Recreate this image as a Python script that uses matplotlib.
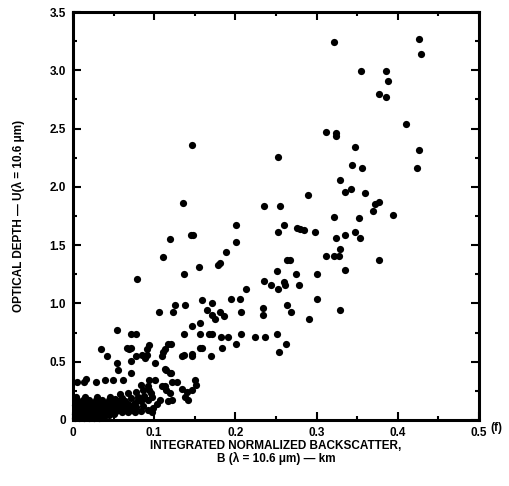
import matplotlib.pyplot as plt
from matplotlib.ticker import MultipleLocator
import numpy as np

# (integrated normalized backscatter [km], optical depth)
points_upper = [
    (0.321, 3.24), (0.426, 3.27), (0.429, 3.14), (0.355, 2.99), (0.385, 2.99),
    (0.388, 2.91), (0.377, 2.80), (0.385, 2.77), (0.410, 2.54), (0.312, 2.47),
    (0.324, 2.46), (0.324, 2.44), (0.347, 2.34), (0.426, 2.32), (0.344, 2.19),
    (0.356, 2.16), (0.424, 2.16), (0.329, 2.06), (0.335, 1.96), (0.342, 1.98),
    (0.360, 1.95), (0.290, 1.93), (0.372, 1.85), (0.377, 1.87), (0.370, 1.79),
    (0.394, 1.76), (0.147, 2.36), (0.252, 2.26), (0.135, 1.86), (0.235, 1.84),
    (0.255, 1.84),
]
points_middle = [
    (0.322, 1.74), (0.352, 1.73), (0.276, 1.65), (0.280, 1.64), (0.284, 1.63),
    (0.298, 1.61), (0.324, 1.56), (0.335, 1.59), (0.347, 1.61), (0.354, 1.56),
    (0.329, 1.47), (0.312, 1.41), (0.322, 1.41), (0.327, 1.41), (0.377, 1.37),
    (0.267, 1.37), (0.275, 1.25), (0.300, 1.25), (0.335, 1.29), (0.278, 1.16),
    (0.300, 1.04), (0.269, 0.93), (0.329, 0.94), (0.291, 0.87),
    (0.201, 1.67), (0.260, 1.67), (0.253, 1.61), (0.145, 1.59), (0.148, 1.59),
    (0.120, 1.55), (0.201, 1.53), (0.189, 1.44), (0.111, 1.40), (0.264, 1.37),
    (0.178, 1.33), (0.181, 1.35), (0.155, 1.31), (0.137, 1.25), (0.251, 1.28),
    (0.079, 1.21), (0.235, 1.19), (0.244, 1.16), (0.253, 1.12), (0.260, 1.18),
    (0.261, 1.16), (0.213, 1.12),
    (0.106, 0.93), (0.123, 0.93), (0.126, 0.99), (0.138, 0.99), (0.159, 1.03),
    (0.171, 1.00), (0.165, 0.94), (0.171, 0.90), (0.175, 0.87), (0.181, 0.93),
    (0.186, 0.89), (0.195, 1.04), (0.206, 1.04), (0.207, 0.93), (0.234, 0.96),
    (0.234, 0.90), (0.264, 0.99),
]
points_lower = [
    (0.156, 0.83), (0.146, 0.81), (0.137, 0.74), (0.157, 0.74), (0.168, 0.74),
    (0.171, 0.74), (0.182, 0.71), (0.191, 0.71), (0.207, 0.74), (0.224, 0.71),
    (0.237, 0.71), (0.251, 0.74), (0.201, 0.65), (0.184, 0.62), (0.170, 0.55),
    (0.262, 0.65), (0.254, 0.58), (0.156, 0.62), (0.159, 0.62), (0.147, 0.57),
    (0.146, 0.55), (0.134, 0.55), (0.137, 0.56),
    (0.054, 0.77), (0.071, 0.74), (0.077, 0.74), (0.034, 0.61), (0.042, 0.55),
    (0.066, 0.62), (0.069, 0.61), (0.072, 0.62), (0.093, 0.64), (0.091, 0.61),
    (0.117, 0.65), (0.121, 0.65), (0.113, 0.61), (0.111, 0.58), (0.109, 0.55),
    (0.054, 0.49), (0.055, 0.43), (0.072, 0.51), (0.078, 0.55), (0.085, 0.56),
    (0.091, 0.56), (0.089, 0.53), (0.101, 0.49), (0.113, 0.44), (0.121, 0.40),
    (0.115, 0.43), (0.119, 0.40), (0.062, 0.34), (0.072, 0.40), (0.013, 0.33),
    (0.016, 0.35), (0.028, 0.33), (0.039, 0.34), (0.049, 0.34), (0.005, 0.33),
    (0.093, 0.34), (0.101, 0.34), (0.093, 0.26), (0.109, 0.29), (0.113, 0.29),
    (0.122, 0.33), (0.128, 0.33), (0.115, 0.26), (0.119, 0.23), (0.107, 0.17),
    (0.117, 0.16), (0.122, 0.17), (0.097, 0.20), (0.134, 0.27), (0.140, 0.24),
    (0.138, 0.20), (0.142, 0.17), (0.150, 0.34), (0.152, 0.30), (0.146, 0.26),
    (0.099, 0.10), (0.097, 0.07), (0.103, 0.14),
]
points_cluster = [
    (0.002, 0.02), (0.008, 0.02), (0.014, 0.02), (0.020, 0.02), (0.026, 0.02),
    (0.032, 0.02), (0.038, 0.03), (0.044, 0.04), (0.050, 0.05),
    (0.005, 0.035), (0.012, 0.035), (0.019, 0.035), (0.029, 0.035), (0.035, 0.04),
    (0.003, 0.05), (0.010, 0.05), (0.017, 0.05), (0.024, 0.05), (0.031, 0.05),
    (0.038, 0.06), (0.045, 0.07), (0.052, 0.07), (0.060, 0.07), (0.068, 0.07),
    (0.076, 0.07), (0.084, 0.08), (0.092, 0.09),
    (0.007, 0.07), (0.014, 0.07), (0.021, 0.07), (0.028, 0.07), (0.035, 0.08),
    (0.042, 0.085), (0.049, 0.085), (0.057, 0.085), (0.065, 0.085), (0.073, 0.09),
    (0.004, 0.09), (0.011, 0.09), (0.018, 0.09), (0.025, 0.09), (0.032, 0.09),
    (0.040, 0.10), (0.047, 0.10), (0.055, 0.10), (0.062, 0.10), (0.070, 0.10),
    (0.078, 0.11), (0.086, 0.12),
    (0.007, 0.11), (0.014, 0.11), (0.021, 0.11), (0.028, 0.11), (0.035, 0.115),
    (0.043, 0.115), (0.050, 0.115), (0.058, 0.115), (0.066, 0.12), (0.074, 0.13),
    (0.003, 0.13), (0.010, 0.13), (0.017, 0.13), (0.024, 0.13), (0.031, 0.13),
    (0.038, 0.13), (0.046, 0.13), (0.053, 0.13), (0.060, 0.13), (0.068, 0.14),
    (0.076, 0.15), (0.084, 0.16), (0.092, 0.17),
    (0.008, 0.15), (0.016, 0.15), (0.024, 0.15), (0.032, 0.15), (0.040, 0.15),
    (0.048, 0.155), (0.056, 0.16), (0.064, 0.165), (0.080, 0.175), (0.088, 0.185),
    (0.005, 0.17), (0.012, 0.17), (0.020, 0.17), (0.028, 0.17), (0.036, 0.17),
    (0.044, 0.17), (0.052, 0.18), (0.060, 0.19), (0.072, 0.19), (0.080, 0.20),
    (0.088, 0.21), (0.096, 0.23),
    (0.004, 0.20), (0.015, 0.20), (0.030, 0.20), (0.045, 0.20), (0.058, 0.22),
    (0.068, 0.23), (0.078, 0.24), (0.086, 0.26), (0.092, 0.29), (0.084, 0.30),
]

xticks = [0, 0.1, 0.2, 0.3, 0.4, 0.5]
xtick_labels = ['0', '0.1', '0.2', '0.3', '0.4', '0.5']
yticks = [0, 0.5, 1.0, 1.5, 2.0, 2.5, 3.0, 3.5]
ytick_labels = ['0', '0.5', '1.0', '1.5', '2.0', '2.5', '3.0', '3.5']

plt.rcParams['font.family'] = ['Liberation Sans', 'DejaVu Sans']
plt.rcParams['font.weight'] = 'bold'

fig = plt.figure(figsize=(5.09, 4.86), dpi=100)
ax = fig.add_axes([73/509, 1 - 420/486, (479 - 73)/509, (420 - 12)/486])

for group in [points_upper, points_middle, points_lower, points_cluster]:
    pts = np.array(group)
    ax.scatter(pts[:, 0], pts[:, 1], s=27, color='black', linewidths=0, clip_on=False)

ax.set_xlim(0, 0.5)
ax.set_ylim(0, 3.5)
ax.set_xticks(xticks)
ax.set_xticklabels(xtick_labels)
ax.set_yticks(yticks)
ax.set_yticklabels(ytick_labels)
ax.xaxis.set_minor_locator(MultipleLocator(0.05))
ax.yaxis.set_minor_locator(MultipleLocator(0.25))
ax.tick_params(which='both', direction='in', top=True, right=True, width=1.5,
               labelsize=8.5, pad=5)
ax.tick_params(which='major', length=6)
ax.tick_params(which='minor', length=3)
for s in ax.spines.values():
    s.set_linewidth(2.2)

ax.set_xlabel('INTEGRATED NORMALIZED BACKSCATTER,\nB (\u03bb = 10.6 \u03bcm) \u2014 km',
              fontsize=8.5, fontweight='bold', labelpad=1, linespacing=1.0)
ax.set_ylabel('OPTICAL DEPTH \u2014 U(\u03bb = 10.6 \u03bcm)', fontsize=8.5,
              fontweight='bold', labelpad=18)
fig.text(0.976, 0.119, '(f)', fontsize=8.5, fontweight='bold', ha='center', va='center')

fig.savefig('out.png', dpi=100)
